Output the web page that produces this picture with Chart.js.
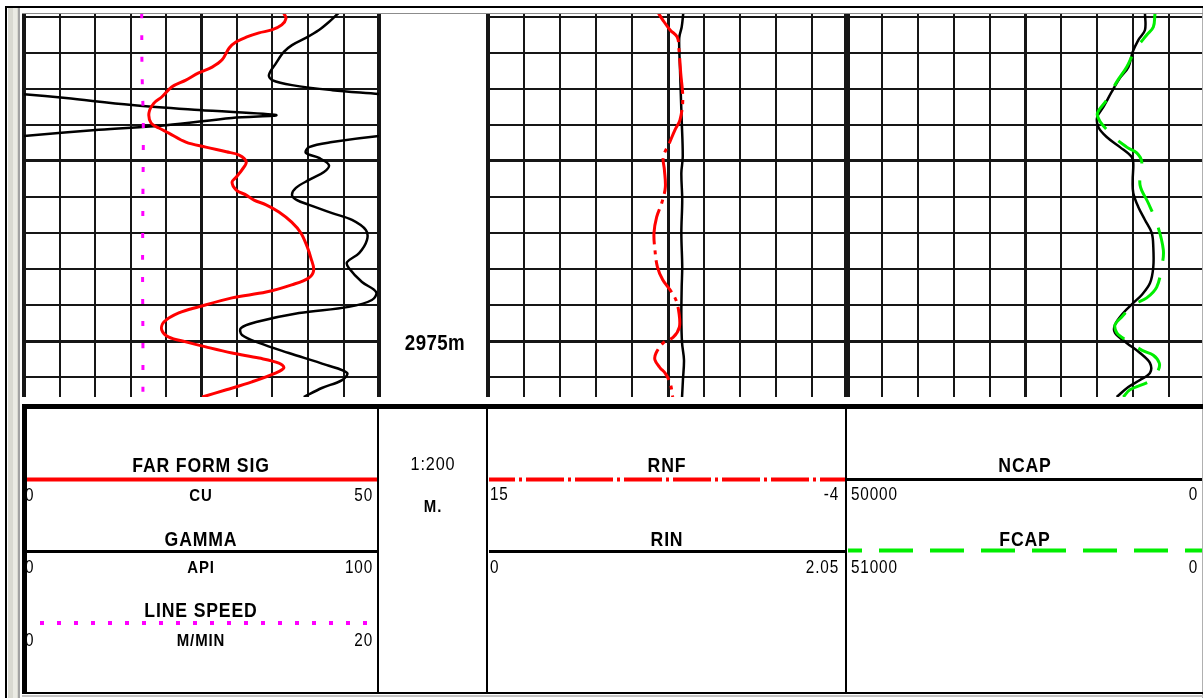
<!DOCTYPE html>
<html>
<head>
<meta charset="utf-8">
<title>Cased-hole log 2966-2976 m</title>
<script src="https://cdn.jsdelivr.net/npm/chart.js@4.4.1/dist/chart.umd.min.js"></script>
<style>
  html, body { margin: 0; padding: 0; background: #fff; overflow: hidden; }
  #sheet { position: relative; width: 1203px; height: 698px; overflow: hidden; background: #fff; }
  #sheet canvas { position: absolute; }
  #sheet svg { position: absolute; left: 0; top: 0; }
  .rule { position: absolute; background: #000; }
  .txt { position: absolute; white-space: nowrap; line-height: 1; color: #000;
         font-family: 'Liberation Sans', Arial, sans-serif; }
  .ttl  { font-size: 21px; font-weight: bold; letter-spacing: 1px;
          transform-origin: center center; transform: translate(-50%, -50%) scaleX(0.84); }
  .unit { font-size: 17px; font-weight: bold; letter-spacing: 1px;
          transform-origin: center center; transform: translate(-50%, -50%) scaleX(0.88); }
  .lo   { font-size: 18px; letter-spacing: 1px;
          transform-origin: left center; transform: translate(0, -50%) scaleX(0.85); }
  .hi   { font-size: 18px; letter-spacing: 1px;
          transform-origin: right center; transform: translate(-100%, -50%) scaleX(0.85); }
  .dep  { font-size: 22px; font-weight: bold; letter-spacing: 0.5px;
          transform-origin: center center; transform: translate(-50%, -50%) scaleX(0.85); }
  .scl  { font-size: 18px; letter-spacing: 1px;
          transform-origin: center center; transform: translate(-50%, -50%) scaleX(0.9); }
</style>
</head>
<body>
<div id="sheet">
  <canvas id="trk1" width="361" height="384" style="left:21px;top:13px"></canvas>
  <canvas id="trk2" width="366" height="384" style="left:485px;top:13px"></canvas>
  <canvas id="trk3" width="365" height="384" style="left:843px;top:13px"></canvas>

  <!-- header line-style samples -->
  <svg width="1203" height="698">
    <line x1="27" y1="479.5" x2="378" y2="479.5" stroke="#ff0000" stroke-width="4"/>
    <line x1="27" y1="551.5" x2="378" y2="551.5" stroke="#000" stroke-width="3"/>
    <line x1="40" y1="623" x2="368" y2="623" stroke="#ff00ff" stroke-width="4" stroke-dasharray="4 13"/>
    <line x1="489" y1="479.5" x2="845" y2="479.5" stroke="#ff0000" stroke-width="4" stroke-dasharray="38 4 3 4" stroke-dashoffset="12"/>
    <line x1="489" y1="551.5" x2="846" y2="551.5" stroke="#000" stroke-width="3"/>
    <line x1="847" y1="479.5" x2="1203" y2="479.5" stroke="#000" stroke-width="3"/>
    <line x1="848" y1="550.5" x2="1203" y2="550.5" stroke="#00ee00" stroke-width="4" stroke-dasharray="34 17" stroke-dashoffset="20"/>
  </svg>

  <!-- sheet frame -->
  <div class="rule" style="left:5px;top:6px;width:1198px;height:2px"></div>
  <div class="rule" style="left:5px;top:6px;width:2px;height:692px"></div>
  <div class="rule" style="left:8px;top:8px;width:10px;height:690px;background:#d9d9d1"></div>
  <div class="rule" style="left:13px;top:8px;width:4px;height:690px;background:#ebebe4"></div>
  <div class="rule" style="left:18px;top:8px;width:2px;height:690px;background:#a3a3a3"></div>
  <div class="rule" style="left:1202px;top:8px;width:1px;height:690px;background:#b0b0b0"></div>
  <div class="rule" style="left:22px;top:13px;width:1181px;height:1px;background:#8c8c8c"></div>

  <!-- header box -->
  <div class="rule" style="left:22px;top:404px;width:1181px;height:5px"></div>
  <div class="rule" style="left:22px;top:692px;width:1181px;height:2px"></div>
  <div class="rule" style="left:22px;top:695px;width:1181px;height:2px;background:#c4c4c4"></div>
  <div class="rule" style="left:377px;top:409px;width:2px;height:283px"></div>
  <div class="rule" style="left:486px;top:409px;width:2px;height:283px"></div>
  <div class="rule" style="left:845px;top:409px;width:2px;height:283px"></div>

  <!-- depth column -->
  <div class="txt dep" style="left:435px;top:343px">2975m</div>
  <div class="txt scl" style="left:433px;top:464px">1:200</div>
  <div class="txt unit" style="left:433px;top:506px">M.</div>

  <!-- track 1 header -->
  <div class="txt ttl" style="left:201px;top:464px">FAR FORM SIG</div>
  <div class="txt unit" style="left:201px;top:495px">CU</div>
  <div class="txt lo" style="left:25px;top:495px">0</div>
  <div class="txt hi" style="left:373px;top:495px">50</div>
  <div class="txt ttl" style="left:201px;top:538px">GAMMA</div>
  <div class="txt unit" style="left:201px;top:567px">API</div>
  <div class="txt lo" style="left:25px;top:567px">0</div>
  <div class="txt hi" style="left:373px;top:567px">100</div>
  <div class="txt ttl" style="left:201px;top:609px">LINE SPEED</div>
  <div class="txt unit" style="left:201px;top:640px">M/MIN</div>
  <div class="txt lo" style="left:25px;top:640px">0</div>
  <div class="txt hi" style="left:373px;top:640px">20</div>

  <!-- left edge of the header box, drawn over the clipped zero labels -->
  <div class="rule" style="left:22px;top:404px;width:5px;height:290px"></div>

  <!-- track 2 header -->
  <div class="txt ttl" style="left:667px;top:464px">RNF</div>
  <div class="txt lo" style="left:490px;top:494px">15</div>
  <div class="txt hi" style="left:839px;top:494px">-4</div>
  <div class="txt ttl" style="left:667px;top:538px">RIN</div>
  <div class="txt lo" style="left:490px;top:567px">0</div>
  <div class="txt hi" style="left:839px;top:567px">2.05</div>

  <!-- track 3 header -->
  <div class="txt ttl" style="left:1025px;top:464px">NCAP</div>
  <div class="txt lo" style="left:851px;top:494px">50000</div>
  <div class="txt hi" style="left:1198px;top:494px">0</div>
  <div class="txt ttl" style="left:1025px;top:538px">FCAP</div>
  <div class="txt lo" style="left:851px;top:567px">51000</div>
  <div class="txt hi" style="left:1198px;top:567px">0</div>
</div>

<script>
// ---- depth window (m) ----
const depthTop = 2965.9;
const depthBottom = 2976.55;
const depthTicks = [2966, 2967, 2968, 2969, 2970, 2971, 2972, 2973, 2974, 2975, 2976];

// ---- track 1: FAR FORM SIG (CU), GAMMA (API), LINE SPEED (M/MIN) ----
const ffsDepth = [2965.91, 2966.05, 2966.23, 2966.37, 2966.45, 2966.57, 2966.70, 2966.87, 2967.20, 2967.40,
  2967.56, 2967.76, 2967.95, 2968.23, 2968.40, 2968.67, 2968.95, 2969.09, 2969.23, 2969.48,
  2969.62, 2969.75, 2969.84, 2970.03, 2970.25, 2970.45, 2970.59, 2970.81, 2970.95, 2971.09,
  2971.22, 2971.42, 2971.70, 2972.00, 2972.39, 2972.69, 2973.03, 2973.25, 2973.44, 2973.64,
  2973.80, 2974.05, 2974.22, 2974.47, 2974.69, 2974.89, 2975.02, 2975.16, 2975.33, 2975.47,
  2975.61, 2975.74, 2975.88, 2976.13, 2976.35, 2976.55];
const ffsCU = [36.6, 36.9, 36.3, 34.9, 33.1, 31.3, 29.9, 28.9, 27.9, 26.5,
  24.6, 22.8, 20.8, 19.4, 18.3, 17.6, 17.9, 19.0, 20.4, 22.8,
  25.6, 28.5, 30.3, 31.3, 30.7, 29.9, 29.3, 29.9, 31.3, 32.4,
  34.1, 35.9, 37.7, 39.0, 39.9, 40.4, 40.8, 40.1, 37.7, 34.1,
  29.3, 24.6, 21.8, 19.7, 19.4, 20.4, 22.8, 25.6, 29.3, 33.1,
  35.9, 36.6, 35.5, 32.1, 28.5, 25.1];

const gammaDepth = [2965.9, 2966.15, 2966.37, 2966.59, 2966.79, 2966.98, 2967.29, 2967.62, 2967.76, 2967.90,
  2968.04, 2968.15, 2968.26, 2968.45, 2968.59, 2968.73, 2968.81, 2969.01, 2969.14, 2969.31,
  2969.48, 2969.62, 2969.78, 2969.92, 2970.12, 2970.31, 2970.53, 2970.75, 2970.95, 2971.09,
  2971.22, 2971.45, 2971.64, 2971.92, 2972.20, 2972.56, 2972.81, 2972.97, 2973.36, 2973.64,
  2973.86, 2974.05, 2974.22, 2974.47, 2974.64, 2974.83, 2975.05, 2975.33, 2975.66, 2975.88,
  2976.08, 2976.30, 2976.55];
const gammaAPI = [88.6, 85.9, 83.1, 79.4, 75.5, 73.2, 71.0, 69.0, 69.9, 75.5,
  86.8, 100, 111.8, 130.4, 149.3, 171, 158.6, 140, 121.1, 100,
  86.8, 80.3, 79.4, 83.1, 85.9, 84.5, 80.3, 76.6, 75.5, 76.9,
  80.3, 86.8, 92.4, 96.3, 96.6, 94.4, 91.0, 91.5, 95.2, 99.2,
  98.0, 91.5, 77.5, 65.4, 61.1, 61.4, 66.2, 74.6, 85.1, 91.0,
  89.6, 83.9, 78.8];

const speedDepth = [2965.9, 2967.5, 2969.0, 2971.0, 2973.0, 2975.0, 2976.55];
const speedMMin = [6.63, 6.65, 6.72, 6.70, 6.68, 6.70, 6.70];

// ---- track 2: RNF (15 .. -4), RIN (0 .. 2.05) ----
const rnfDepth = [2965.90, 2966.09, 2966.37, 2966.57, 2966.93, 2967.56, 2968.31, 2968.87, 2969.14, 2969.51,
  2969.89, 2970.25, 2970.73, 2971.17, 2971.56, 2972.00, 2972.47, 2972.94, 2973.30, 2973.58,
  2973.86, 2974.22, 2974.61, 2974.89, 2975.05, 2975.33, 2975.52, 2975.74, 2975.88, 2976.16, 2976.55];
const rnfVal = [6.01, 5.78, 5.39, 5.01, 4.92, 4.83, 4.72, 4.87, 5.13, 5.43,
  5.75, 5.69, 5.64, 5.83, 6.10, 6.24, 6.19, 6.06, 5.78, 5.39,
  5.08, 4.92, 4.90, 5.22, 5.75, 6.13, 6.19, 5.92, 5.66, 5.39, 5.25];

const rinDepth = [2965.9, 2966.29, 2966.59, 2967.40, 2968.31, 2968.87, 2969.89, 2970.34, 2971.09, 2972.00,
  2972.94, 2973.50, 2974.33, 2975.05, 2975.52, 2976.08, 2976.55];
const rinVal = [1.112, 1.103, 1.089, 1.093, 1.099, 1.103, 1.109, 1.101, 1.106, 1.101,
  1.106, 1.103, 1.101, 1.105, 1.116, 1.110, 1.105];

// ---- track 3: NCAP (50000 .. 0), FCAP (51000 .. 0) ----
const ncapDepth = [2965.9, 2966.37, 2966.65, 2966.98, 2967.40, 2967.70, 2968.09, 2968.51, 2968.78, 2969.06,
  2969.34, 2969.62, 2969.89, 2970.06, 2970.53, 2970.89, 2971.28, 2971.64, 2972.00, 2972.39,
  2972.94, 2973.39, 2973.72, 2973.94, 2974.22, 2974.55, 2974.77, 2975.05, 2975.33, 2975.61,
  2975.88, 2976.08, 2976.27, 2976.55];
const ncapVal = [8360, 8360, 9290, 10070, 10680, 11840, 13000, 14170, 15000, 14860,
  13690, 11840, 10210, 9990, 10070, 9990, 9290, 8360, 7420, 7200,
  7200, 7660, 8820, 9990, 11380, 12540, 12540, 10910, 9050, 7660,
  7660, 9050, 10680, 12300];

const fcapDepth = [2965.9, 2966.29, 2966.51, 2966.93, 2967.40, 2967.81, 2968.31, 2968.73, 2969.28, 2969.62,
  2969.78, 2970.03, 2970.67, 2971.17, 2971.72, 2972.47, 2972.94, 2973.50, 2973.80, 2974.00,
  2974.33, 2974.55, 2974.77, 2974.89, 2975.25, 2975.39, 2975.61, 2975.80, 2976.08, 2976.35, 2976.55];
const fcapVal = [7100, 7340, 8280, 9940, 11120, 12540, 13960, 15300, 13250, 11120,
  9700, 8990, 9230, 8060, 6860, 5920, 6150, 6860, 8280, 10190,
  11830, 12790, 12540, 11830, 8990, 7340, 6490, 6630, 7570, 10660, 11610];

// ---- helpers ----
const GRID = '#161616';

function points(depths, values) {
  return depths.map((d, i) => ({ x: values[i], y: d }));
}

// Gamma readings above full scale are re-plotted from the left edge (backup trace).
function backup(depths, values, fullScale) {
  return depths.map((d, i) => ({ x: values[i] >= fullScale ? values[i] - fullScale : null, y: d }));
}

function depthAxis() {
  return {
    type: 'linear', axis: 'y', min: depthTop, max: depthBottom, reverse: true,
    afterBuildTicks: s => { s.ticks = depthTicks.map(v => ({ value: v })); },
    ticks: { display: false },
    grid: {
      color: GRID, drawTicks: false,
      lineWidth: c => (c.tick && c.tick.value % 5 === 0) ? 3 : 2
    },
    border: { display: false }
  };
}

function gridAxis() {
  return {
    type: 'linear', axis: 'x', position: 'top', min: 0, max: 10,
    ticks: { display: false, stepSize: 1 },
    grid: {
      color: GRID, drawTicks: false,
      lineWidth: c => {
        if (!c.tick) return 2;
        const v = c.tick.value;
        return (v === 0 || v === 10) ? 4 : (v === 5 ? 3 : 2);
      }
    },
    border: { display: false }
  };
}

function curveAxis(min, max, reverse) {
  return { type: 'linear', axis: 'x', display: false, min: min, max: max, reverse: !!reverse };
}

function curve(data, axisId, color, width, dash) {
  return {
    data: data, xAxisID: axisId, yAxisID: 'depth',
    borderColor: color, borderWidth: width, borderDash: dash || [],
    pointRadius: 0, tension: 0.35, fill: false, spanGaps: false
  };
}

function track(id, scales, datasets) {
  return new Chart(document.getElementById(id), {
    type: 'line',
    data: { datasets: datasets },
    options: {
      responsive: false, animation: false, indexAxis: 'y', events: [],
      layout: { padding: { left: 3, right: 3, top: 0, bottom: 0 } },
      plugins: { legend: { display: false }, tooltip: { enabled: false } },
      scales: scales
    }
  });
}

// ---- track 1 ----
track('trk1', {
  grid: gridAxis(),
  cu: curveAxis(0, 50),
  api: curveAxis(0, 100),
  mmin: curveAxis(0, 20),
  depth: depthAxis()
}, [
  curve(points(ffsDepth, ffsCU), 'cu', '#ff0000', 3),
  curve(points(speedDepth, speedMMin), 'mmin', '#ff00ff', 3, [5, 17]),
  curve(points(gammaDepth, gammaAPI), 'api', '#000000', 2.5),
  curve(backup(gammaDepth, gammaAPI, 100), 'api', '#000000', 2.5)
]);

// ---- track 2 ----
track('trk2', {
  grid: gridAxis(),
  rnf: curveAxis(-4, 15, true),
  rin: curveAxis(0, 2.05),
  depth: depthAxis()
}, [
  curve(points(rnfDepth, rnfVal), 'rnf', '#ff0000', 3, [36, 6, 4, 6]),
  curve(points(rinDepth, rinVal), 'rin', '#000000', 2.5)
]);

// ---- track 3 ----
track('trk3', {
  grid: gridAxis(),
  ncap: curveAxis(0, 50000, true),
  fcap: curveAxis(0, 51000, true),
  depth: depthAxis()
}, [
  curve(points(fcapDepth, fcapVal), 'fcap', '#00ee00', 3, [34, 17]),
  curve(points(ncapDepth, ncapVal), 'ncap', '#000000', 2.5)
]);
</script>
</body>
</html>
